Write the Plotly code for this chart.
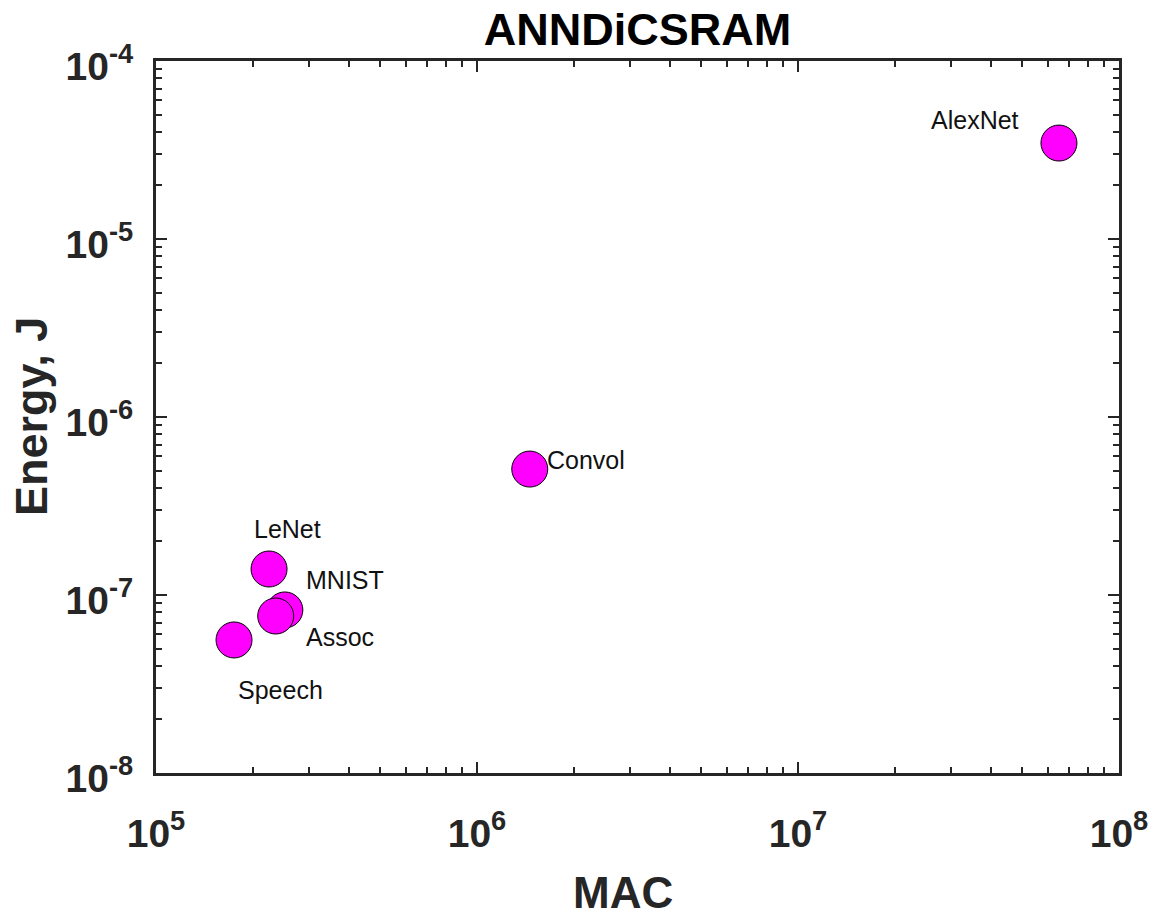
import math
import plotly.graph_objects as go

# Benchmark networks: multiply-accumulate count vs. energy per inference
networks = ["AlexNet", "Convol", "LeNet", "MNIST", "Assoc", "Speech"]
mac = [6.5e7, 1.46e6, 2.25e5, 2.52e5, 2.36e5, 1.75e5]
energy_j = [3.46e-5, 5.1e-7, 1.40e-7, 8.24e-8, 7.62e-8, 5.59e-8]

# Label offsets (pixels) relative to each marker
label_dx = [-84, 56, 18, 60, 64, 46]
label_dy = [23, 9, 40, 30, -21, -50]

# Decade tick labels
x_tick_vals = [1e5, 1e6, 1e7, 1e8]
x_tick_text = ["10<sup>5</sup>", "10<sup>6</sup>", "10<sup>7</sup>", "10<sup>8</sup>"]
y_tick_vals = [1e-8, 1e-7, 1e-6, 1e-5, 1e-4]
y_tick_text = ["10<sup>-8</sup>", "10<sup>-7</sup>", "10<sup>-6</sup>",
               "10<sup>-5</sup>", "10<sup>-4</sup>"]

AX = "#262626"
FONT = "Liberation Sans, Arial, sans-serif"


def minor_positions(lo, hi):
    """2..9 multiples of each decade between 10**lo and 10**hi."""
    return [m * 10 ** e for e in range(lo, hi) for m in range(2, 10)]


fig = go.Figure()
fig.add_trace(go.Scatter(
    x=mac, y=energy_j, mode="markers",
    marker=dict(size=36, color="#FF00FF", line=dict(color="#000000", width=1)),
    hoverinfo="x+y+text", text=networks, showlegend=False,
))

for name, xv, yv, dx, dy in zip(networks, mac, energy_j, label_dx, label_dy):
    fig.add_annotation(
        x=math.log10(xv), y=math.log10(yv), xref="x", yref="y",
        text=name, showarrow=False, xshift=dx, yshift=dy,
        font=dict(family=FONT, size=25, color="#111111"),
    )

axis_common = dict(
    type="log", showgrid=False, zeroline=False, automargin=False,
    showline=True, linecolor=AX, linewidth=3, mirror="allticks",
    ticks="inside", ticklen=11, tickwidth=2, tickcolor=AX,
    tickmode="array",
    tickfont=dict(family=FONT, size=39, color=AX, weight="bold"),
)

fig.update_xaxes(
    range=[5, 8], tickvals=x_tick_vals, ticktext=x_tick_text, ticklabelstandoff=24,
    minor=dict(ticks="inside", ticklen=6, tickwidth=2, tickcolor=AX, showgrid=False,
               tickmode="array", tickvals=minor_positions(5, 8)),
    **axis_common,
)
fig.update_yaxes(
    range=[-8, -4], tickvals=y_tick_vals, ticktext=y_tick_text,
    ticklabelstandoff=12, ticklabelshift=5,
    minor=dict(ticks="inside", ticklen=6, tickwidth=2, tickcolor=AX, showgrid=False,
               tickmode="array", tickvals=minor_positions(-8, -4)),
    **axis_common,
)

# Axis titles
fig.add_annotation(
    text="<b>MAC</b>", xref="paper", yref="paper", x=0.5, y=0,
    yanchor="middle", yshift=-119, xshift=-15, showarrow=False,
    font=dict(family=FONT, size=44, color=AX),
)
fig.add_annotation(
    text="<b>Energy, J</b>", xref="paper", yref="paper", x=0, y=0.5,
    xanchor="center", xshift=-125, textangle=-90, showarrow=False,
    font=dict(family=FONT, size=45, color=AX),
)

fig.update_layout(
    width=1159, height=924,
    paper_bgcolor="white", plot_bgcolor="white",
    margin=dict(l=156, r=40, t=61, b=151),
    title=dict(
        text="<b>ANNDiCSRAM</b>", x=0.5, xref="paper",
        y=1 - 29 / 924, yref="container", yanchor="middle",
        font=dict(family=FONT, size=45, color="#000000"),
    ),
)

fig.write_html("out.html")
